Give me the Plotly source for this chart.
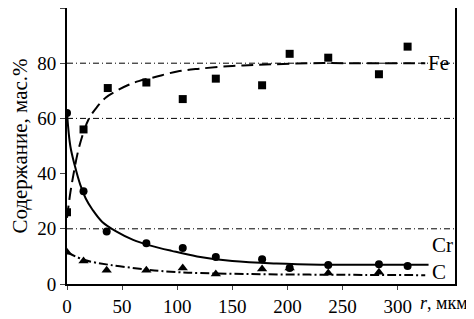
import plotly.graph_objects as go

# Measured points
fe_r = [0, 15, 37, 72, 105, 135, 177, 202, 237, 283, 309]
fe_v = [26, 56, 71, 73, 67, 74.4, 72, 83.4, 82, 76, 86]

cr_r = [0, 15, 36, 72, 105, 135, 177, 202, 237, 283, 309]
cr_v = [62, 33.6, 19, 14.8, 13, 9.8, 9, 5.8, 6.9, 7.2, 6.5]

c_r = [0, 15, 36, 72, 105, 135, 177, 202, 237, 283]
c_v = [11.5, 8.3, 5, 5, 5.8, 3.6, 5.4, 5.8, 4, 4.3]

# Fitted curves
fe_curve_r = [0, 3, 6, 10, 15, 20, 27, 35, 45, 55, 65, 80, 100, 120, 150, 180, 220, 260, 325]
fe_curve_v = [24, 33, 40, 48, 55, 60, 64, 67.5, 70, 72, 73.5, 75, 77, 78, 79, 79.5, 80, 80, 80]

cr_curve_r = [0, 3, 7, 12, 17, 23, 32, 45, 60, 75, 95, 118, 150, 190, 230, 280, 328]
cr_curve_v = [62, 50, 43, 36, 31, 27, 22.5, 19, 16, 14, 12, 10, 8.3, 7.4, 7, 7, 7]

c_curve_r = [0, 16, 39, 69, 85, 110, 166, 220, 270, 325]
c_curve_v = [11.5, 8.7, 6.9, 5.4, 4.7, 4.1, 3.6, 3.4, 3.3, 3.2]

x_ticks = [0, 50, 100, 150, 200, 250, 300]
y_ticks = [0, 20, 40, 60, 80, 100]
grid_y = [20, 60, 80]

series_labels = ["Fe", "Cr", "C"]
label_pos = [(325, 80), (328, 14), (328, 4.5)]

FONT = "Liberation Serif"

fig = go.Figure()

fig.add_trace(go.Scatter(x=fe_curve_r, y=fe_curve_v, mode="lines", line_shape="spline",
                         line=dict(color="black", width=2, dash="12px,6px"), showlegend=False))
fig.add_trace(go.Scatter(x=cr_curve_r, y=cr_curve_v, mode="lines", line_shape="spline",
                         line=dict(color="black", width=2), showlegend=False))
fig.add_trace(go.Scatter(x=c_curve_r, y=c_curve_v, mode="lines", line_shape="spline",
                         line=dict(color="black", width=2, dash="9px,3px,2px,3px"), showlegend=False))

fig.add_trace(go.Scatter(x=fe_r, y=fe_v, mode="markers",
                         marker=dict(symbol="square", size=8, color="black"), showlegend=False))
fig.add_trace(go.Scatter(x=cr_r, y=cr_v, mode="markers",
                         marker=dict(symbol="circle", size=8, color="black"), showlegend=False))
fig.add_trace(go.Scatter(x=c_r, y=c_v, mode="markers",
                         marker=dict(symbol="triangle-up", size=9, color="black"), showlegend=False))

for gy in grid_y:
    fig.add_shape(type="line", xref="paper", x0=0, x1=1, yref="y", y0=gy, y1=gy,
                  line=dict(color="black", width=1, dash="6px,3px,1px,3px"), layer="below")

for name, (lx, ly) in zip(series_labels, label_pos):
    fig.add_annotation(x=lx, y=ly, text=name, showarrow=False, xanchor="left", yanchor="middle",
                       xshift=1, font=dict(family=FONT, size=21, color="black"))

fig.add_annotation(xref="paper", yref="paper", x=0.905, y=-0.068, text="<i>r</i>, мкм",
                   showarrow=False, xanchor="left", yanchor="middle",
                   font=dict(family=FONT, size=18, color="black"))

# page body has an 8px margin, so the figure is sized to fit inside the window
fig.update_layout(
    width=466, height=311,
    margin=dict(l=59, r=19, t=0, b=35),
    paper_bgcolor="white", plot_bgcolor="white",
    font=dict(family=FONT, size=19, color="black"),
    xaxis=dict(range=[0, 352], tickvals=x_ticks, ticks="outside", ticklen=4, tickwidth=1,
               showgrid=False, zeroline=False, showline=True, linecolor="black", linewidth=2,
               mirror=True, tickfont=dict(family=FONT, size=19), automargin=False),
    yaxis=dict(range=[0, 100], tickvals=y_ticks, ticks="outside", ticklen=5, tickwidth=1,
               showgrid=False, zeroline=False, showline=True, linecolor="black", linewidth=2,
               mirror=True, tickfont=dict(family=FONT, size=19), automargin=False,
               title=dict(text="Содержание, мас.%", font=dict(family=FONT, size=21), standoff=6)),
)

fig.write_html("out.html")
